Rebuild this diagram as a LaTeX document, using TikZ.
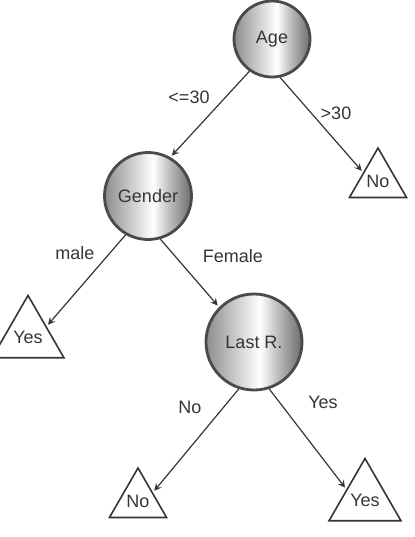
\documentclass[tikz,border=0pt]{standalone}
\usepackage{fontspec}
\setmainfont{Liberation Sans}
\usetikzlibrary{shapes.geometric}

\definecolor{ink}{HTML}{353535}
\definecolor{ring}{HTML}{4A4A4A}
\definecolor{ballleft}{HTML}{8C8C8C}
\definecolor{ballmid}{HTML}{C2C2C2}
\definecolor{ballback}{HTML}{B8B8B8}
\definecolor{ballright}{HTML}{6C6C6C}
\pgfdeclarehorizontalshading{ballshade}{100bp}{color(0bp)=(ballleft); color(25bp)=(ballleft); color(38bp)=(ballmid); color(53bp)=(white); color(63bp)=(ballback); color(75bp)=(ballright); color(100bp)=(ballright)}

\tikzset{
  test/.style={circle, shading=ballshade, draw=ring, line width=1.4pt, inner sep=0pt, text=ink},
  leaf/.style={regular polygon, regular polygon sides=3, draw=ink, line width=0.8pt, inner sep=0pt, minimum size=33pt, text height=6.5pt, text depth=0pt, text=ink},
  branch/.style={text=ink},
  link/.style={->, draw=ink, line width=0.6pt, shorten >=1pt}
}

\begin{document}
\begin{tikzpicture}[x=0.5pt, y=-0.5pt, >=stealth, font=\fontsize{9}{11}\selectfont]
        \useasboundingbox (0,0) rectangle (414,537);

        \node[test, minimum size=38pt] (age) at (272,39) {Age};
        \node[test, minimum size=43.5pt] (gender) at (148,196) {Gender};
        \node[test, minimum size=48pt] (lastr) at (254,342) {Last R.};

        \node[leaf] (agehigh) at (378,181) {No};
        \node[leaf] (male) at (28,337) {Yes};
        \node[leaf] (lastno) at (138,501) {No};
        \node[leaf] (lastyes) at (365,500) {Yes};

        
        \draw[link] (age.-125) -- (gender.60);
        \draw[link] (age.-78) -- (agehigh.side 1);
        \draw[link] (gender.-120) -- (male.side 3);
        \draw[link] (gender.-74) -- (lastr.135);
        \draw[link] (lastr.-108) -- (lastno.side 3);
        \draw[link] (lastr.-72) -- (lastyes.side 1);

        
        \node[branch] (lowage) at (189,97) {<=30};
        \node[branch] (highage) at (336,113) {>30};
        \node[branch] (ismale) at (75,253) {male};
        \node[branch] (isfemale) at (233,256) {Female};
        \node[branch] (notlast) at (190,407) {No};
        \node[branch] (waslast) at (323,402) {Yes};
    \end{tikzpicture}
\end{document}
